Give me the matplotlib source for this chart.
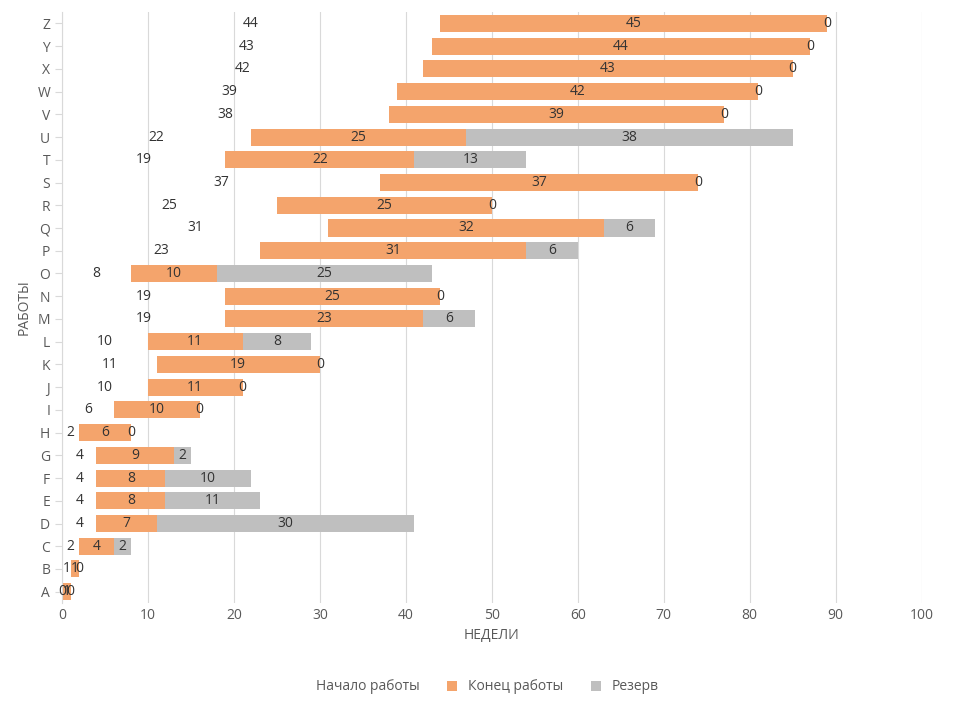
import matplotlib.pyplot as plt
import numpy as np

plt.rcParams['font.family'] = ['Open Sans', 'DejaVu Sans']

def plot_gantt(save_to_path : str = None):
    '''
    Stacked horizontal bars: invisible start, duration and reserve
    '''
    tasks = list("ABCDEFGHIJKLMNOPQRSTUVWXYZ")
    start = [0, 1, 2, 4, 4, 4, 4, 2, 6, 10, 11, 10, 19, 19, 8, 23, 31, 25, 37, 19, 22, 38, 39, 42, 43, 44]
    duration = [1, 1, 4, 7, 8, 8, 9, 6, 10, 11, 19, 11, 23, 25, 10, 31, 32, 25, 37, 22, 25, 39, 42, 43, 44, 45]
    reserve = [0, 0, 2, 30, 11, 10, 2, 0, 0, 0, 0, 8, 6, 0, 25, 6, 6, 0, 0, 13, 38, 0, 0, 0, 0, 0]

    start = np.array(start)
    duration = np.array(duration)
    reserve = np.array(reserve)
    y = np.arange(len(tasks))

    fig = plt.figure(figsize=(9.54, 7.07), dpi=100)
    ax = fig.add_axes([0.065, 0.147, 0.901, 0.836])

    b0 = ax.barh(y, start, height=0.75, color='none', label='Начало работы')
    b1 = ax.barh(y, duration, left=start, height=0.75, color='#f4a46c', label='Конец работы')
    b2 = ax.barh(y, reserve, left=start + duration, height=0.75, color='#bfbfbf', label='Резерв')

    for bars in (b0, b1, b2):
        ax.bar_label(bars, label_type='center', fontsize=10, color='#333333')

    ax.set_xlim(0, 100)
    ax.set_ylim(-0.5, len(tasks) - 0.5)
    ax.set_xticks(np.arange(0, 101, 10))
    ax.set_yticks(y)
    ax.set_yticklabels(tasks)
    ax.tick_params(axis='both', labelsize=10, colors='#595959', length=0)
    ax.tick_params(axis='y', length=5, color='#d9d9d9', direction='out')
    ax.xaxis.grid(True, color='#d9d9d9', linewidth=0.8)
    ax.set_axisbelow(True)
    for side in ('top', 'right', 'bottom'):
        ax.spines[side].set_visible(False)
    ax.spines['left'].set_color('#d9d9d9')
    ax.set_xlabel("НЕДЕЛИ", fontsize=10, color='#595959')
    ax.set_ylabel("РАБОТЫ", fontsize=10, color='#595959')

    fig.legend(handles=[b0, b1, b2], loc='lower center', ncol=3, frameon=False,
               bbox_to_anchor=(0.5, 0.0), fontsize=10, handlelength=0.7, handleheight=0.7,
               labelcolor='#595959')

    if save_to_path is not None:
        plt.savefig(save_to_path)
    plt.close()

plot_gantt("out.png")
